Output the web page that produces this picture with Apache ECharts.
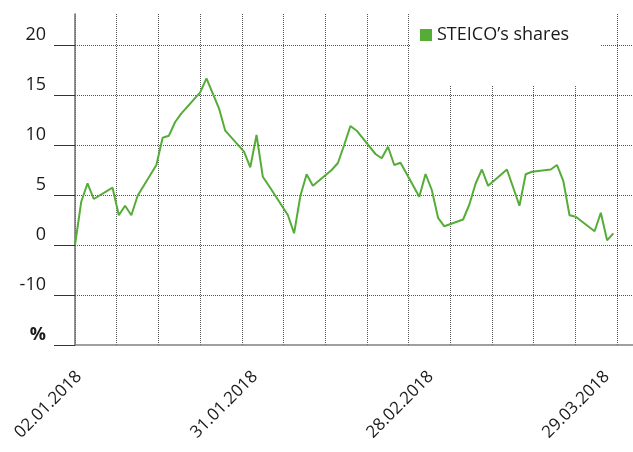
<!DOCTYPE html>
<html><head><meta charset="utf-8">
<script src="https://cdn.jsdelivr.net/npm/echarts@6/dist/echarts.min.js"></script>
<style>html,body{margin:0;padding:0;background:#fff}#c{width:633px;height:452px}</style>
</head><body><div id="c"></div>
<script>
const seriesName = 'STEICO’s shares';
const dates = ['02.01','03.01','04.01','05.01','08.01','09.01','10.01','11.01','12.01',
  '15.01','16.01','17.01','18.01','19.01','22.01','23.01','24.01','25.01','26.01',
  '29.01','30.01','31.01','01.02','02.02','05.02','06.02','07.02','08.02','09.02',
  '12.02','13.02','14.02','15.02','16.02','19.02','20.02','21.02','22.02','23.02',
  '26.02','27.02','28.02','01.03','02.03','05.03','06.03','07.03','08.03','09.03',
  '12.03','13.03','14.03','15.03','16.03','19.03','20.03','21.03','22.03','23.03',
  '26.03','27.03','28.03','29.03'];
const values = [0, 4.33, 6.17, 4.6, 5.73, 2.97, 3.93, 2.97, 4.93,
  8.0, 10.73, 10.93, 12.3, 13.17, 15.27, 16.67, 15.17, 13.67, 11.43,
  9.33, 7.77, 11.0, 6.83, 5.9, 3.0, 1.17, 4.9, 7.07, 5.93,
  7.5, 8.2, 10.0, 11.9, 11.43, 9.1, 8.67, 9.83, 8.0, 8.23,
  4.83, 7.1, 5.5, 2.72, 1.87, 2.55, 4.05, 6.15, 7.55, 5.92,
  7.55, 5.75, 3.92, 7.08, 7.33, 7.55, 8.0, 6.42, 2.98, 2.83,
  1.38, 3.23, 0.47, 1.17];
const yTickValues = [-10, -5, 0, 5, 10, 15, 20];
const yTickLabels = ['%', '-10', '0', '5', '10', '15', '20'];
const xLabels = ['02.01.2018', '31.01.2018', '28.02.2018', '29.03.2018'];

function dayIndex(s) {
  const p = s.split('.').map(Number);
  return (Date.UTC(2018, p[1] - 1, p[0]) - Date.UTC(2018, 0, 2)) / 86400000;
}
const seriesData = dates.map((d, i) => [dayIndex(d), values[i]]);

const FONT = '"Open Sans", sans-serif';
const GREEN = '#55ad38';
const chart = echarts.init(document.getElementById('c'), null, {renderer: 'canvas'});
chart.setOption({
  animation: false,
  backgroundColor: '#fff',
  grid: [
    {left: 75, right: 0, top: 14, bottom: 107},
    {left: 79, width: 527.7, top: 14, bottom: 107}
  ],
  legend: {
    data: [seriesName], left: 410, top: 14, padding: [12, 32, 42, 10],
    backgroundColor: '#fff', itemWidth: 12, itemHeight: 12, icon: 'rect',
    textStyle: {fontSize: 18, color: '#1a1a1a', fontFamily: FONT}
  },
  xAxis: [
    {type: 'value', gridIndex: 0, min: 0, max: 89.14, interval: 6.66,
     axisLine: {show: true, onZero: false, lineStyle: {color: '#808080', width: 1.5}},
     axisTick: {show: false}, axisLabel: {show: false},
     splitLine: {show: true, showMaxLine: false, lineStyle: {type: 'dotted', color: '#555', width: 1}}},
    {type: 'value', gridIndex: 1, min: 0, max: 3, interval: 1,
     axisLine: {show: false, onZero: false}, axisTick: {show: false}, splitLine: {show: false},
     axisLabel: {rotate: 45, margin: 29, fontSize: 17, color: '#1a1a1a', fontFamily: FONT,
       formatter: v => xLabels[Math.round(v)] || ''}}
  ],
  yAxis: [
    {type: 'value', gridIndex: 0, min: -10, max: 23.1, interval: 5,
     axisLine: {show: true, lineStyle: {color: '#707070', width: 1.5}},
     axisTick: {show: true, length: 21, customValues: yTickValues, lineStyle: {color: '#333', width: 1}},
     axisLabel: {customValues: yTickValues, margin: 29, verticalAlign: 'bottom', lineHeight: 20,
       fontSize: 18, color: '#1a1a1a', fontFamily: FONT,
       formatter: v => {
         const i = yTickValues.indexOf(v);
         if (i < 0) return '';
         return i === 0 ? '{b|' + yTickLabels[i] + '}' : yTickLabels[i];
       },
       rich: {b: {fontWeight: 'bold', fontSize: 18, fontFamily: FONT, color: '#1a1a1a', lineHeight: 20}}},
     splitLine: {show: true, showMinLine: false,
       lineStyle: {type: 'dotted', color: '#555', width: 1}}},
    {type: 'value', gridIndex: 1, show: false, min: 0, max: 1}
  ],
  series: [{
    type: 'line', name: seriesName, xAxisIndex: 0, yAxisIndex: 0,
    data: seriesData, symbol: 'none', showSymbol: false,
    lineStyle: {color: GREEN, width: 2}, itemStyle: {color: GREEN}
  }]
});
</script></body></html>
